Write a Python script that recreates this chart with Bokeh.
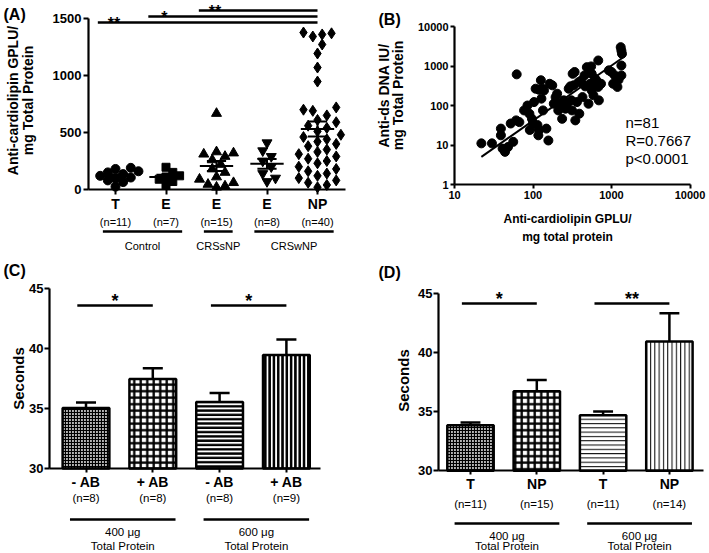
import math
import numpy as np
from bokeh.plotting import figure
from bokeh.layouts import column, row
from bokeh.models import FixedTicker, Range1d, PrintfTickFormatter
from bokeh.core.properties import value
from bokeh.embed import file_html
from bokeh.resources import INLINE

FONT = "Liberation Sans"

# ---------------- Panel A data ----------------
a_labels = ["T", "E", "E", "E", "NP"]
a_counts = ["(n=11)", "(n=7)", "(n=15)", "(n=8)", "(n=40)"]
a_groups = ["Control", "CRSsNP", "CRSwNP"]
a_group_first = [1, 3, 4]
a_group_last = [2, 3, 5]
a_T = [25, 65, 80, 95, 105, 120, 135, 150, 160, 180, 190]
a_E_control = [40, 70, 90, 110, 120, 150, 195]
a_E_crssnp = [20, 30, 45, 60, 90, 110, 150, 180, 220, 260, 290, 310, 320, 330, 667]
a_E_crswnp = [70, 100, 140, 200, 250, 290, 340, 410]
a_NP = [1377, 1370, 1360, 1342, 1272, 1193, 1070, 947, 720, 700, 690, 650, 610,
        590, 560, 540, 510, 480, 460, 440, 420, 400, 380, 350, 330, 310, 290,
        270, 250, 230, 200, 180, 160, 140, 120, 100, 80, 60, 40, 20]
a_sig_from = [1, 2, 3]
a_sig_to = [5, 5, 5]
a_sig_text = ["**", "*", "**"]
a_yticks = [0, 500, 1000, 1500]

# ---------------- Panel B data ----------------
b_x = [22, 30, 39, 39, 41, 44, 48, 52, 56, 61, 67, 62, 77, 85, 90, 91, 97, 100, 103, 108,
       114, 119, 117, 119, 128, 132, 134, 138, 148, 157, 163, 176, 184, 194, 203, 210, 213,
       235, 247, 259, 272, 285, 299, 309, 314, 320, 329, 339, 346, 363, 381, 389, 411, 427,
       453, 462, 485, 509, 534, 560, 589, 617, 678, 690, 735, 550, 678, 646, 925, 1000,
       1100, 1050, 1190, 1230, 1336, 1310, 1336, 1360, 1336, 560, 126]
b_y = [11, 11, 26, 17.6, 8.1, 6.7, 8.9, 35, 12, 42, 38, 614, 75, 100, 62, 24, 46, 35, 122, 266,
       32, 24, 17.6, 251, 149, 266, 75, 240, 26, 13, 355, 324, 111, 163, 199, 75, 111, 46,
       135, 83, 111, 266, 305, 135, 75, 635, 324, 705, 42, 122, 390, 62, 427, 163, 578, 305,
       935, 111, 355, 240, 181, 477, 295, 135, 355, 975, 1380, 427, 775, 705, 578, 355, 295,
       447, 578, 3000, 2460, 2040, 1030, 635, 436]
b_fit_x = [22, 1400]
b_fit_y = [5, 1640]
b_stats = ["n=81", "R=0.7667", "p<0.0001"]
b_xticks = [10, 100, 1000, 10000]
b_yticks = [1, 10, 100, 1000, 10000]

# ---------------- Panel C data ----------------
c_labels = ["- AB", "+ AB", "- AB", "+ AB"]
c_counts = ["(n=8)", "(n=8)", "(n=8)", "(n=9)"]
c_mean = [35.05, 37.45, 35.55, 39.45]
c_sem = [0.45, 0.9, 0.75, 1.3]
c_sig_from = [1, 3]
c_sig_to = [2, 4]
c_sig_text = ["*", "*"]
c_group_first = [1, 3]
c_group_last = [2, 4]
c_group_top = ["400 \u03bcg", "600 \u03bcg"]
c_group_bottom = ["Total Protein", "Total Protein"]

# ---------------- Panel D data ----------------
d_labels = ["T", "NP", "T", "NP"]
d_counts = ["(n=11)", "(n=15)", "(n=11)", "(n=14)"]
d_mean = [33.85, 36.75, 34.7, 40.95]
d_sem = [0.25, 0.95, 0.33, 2.4]
d_sig_from = [1, 3]
d_sig_to = [2, 4]
d_sig_text = ["*", "**"]
d_group_first = [1, 3]
d_group_last = [2, 4]
d_group_top = ["400 \u03bcg", "600 \u03bcg"]
d_group_bottom = ["Total Protein", "Total Protein"]

bar_yticks = [30, 35, 40, 45]


# ---------------- helpers ----------------
def new_fig(w, h, xr, yr, xtype="linear", ytype="linear"):
    p = figure(width=w, height=h, x_range=Range1d(*xr), y_range=Range1d(*yr),
               x_axis_type=xtype, y_axis_type=ytype, output_backend="svg",
               toolbar_location=None, title=None, min_border=0)
    p.outline_line_color = None
    p.xgrid.visible = False
    p.ygrid.visible = False
    return p


def style_axis(ax, size, tick_out=5, standoff=2):
    ax.axis_line_width = 2.2
    ax.axis_line_color = "black"
    ax.major_tick_line_width = 2
    ax.major_tick_line_color = "black"
    ax.major_tick_in = 0
    ax.major_tick_out = tick_out
    ax.minor_tick_line_color = None
    ax.major_label_text_font = FONT
    ax.major_label_text_font_style = "bold"
    ax.major_label_text_font_size = size
    ax.major_label_text_color = "black"
    ax.major_label_standoff = standoff


def overrides(labels):
    d = {}
    for i, lab in enumerate(labels):
        d[i + 1] = lab
        d[str(i + 1)] = lab
    return d


def texts(p, xs, ys, labels, size, bold=False, align="center", baseline="middle", angle=0.0):
    p.text(x=list(xs), y=list(ys), text=list(labels), text_font=value(FONT),
           text_font_size=size, text_font_style="bold" if bold else "normal",
           text_align=align, text_baseline=baseline, angle=angle, text_color="black")


def swarm_offsets(vals, px_x, px_v, diam):
    vals = np.asarray(vals, float)
    order = np.argsort(vals)
    placed = []
    offs = np.zeros(len(vals))
    steps = [0.0]
    for m in range(1, 14):
        steps += [m * diam * 0.5, -m * diam * 0.5]
    for idx in order:
        yv = vals[idx] * px_v
        chosen = steps[-1]
        for c in steps:
            if all((c - px) ** 2 + (yv - py) ** 2 >= diam ** 2 for px, py in placed):
                chosen = c
                break
        placed.append((chosen, yv))
        offs[idx] = chosen / px_x
    return offs


# ================= Panel A =================
A_W, A_H = 355, 257
A_PXX, A_PXV = 50.5, 0.114


def amap_x(lx):
    return 1 + (lx - 115) / A_PXX


def amap_y(ly):
    return (189 - ly) / A_PXV


pA = new_fig(A_W, A_H, (amap_x(0), amap_x(A_W)), (amap_y(A_H), amap_y(0)))
xa, ya = pA.xaxis[0], pA.yaxis[0]
xa.fixed_location = 0
xa.bounds = (amap_x(88), amap_x(345))
xa.ticker = FixedTicker(ticks=list(range(1, len(a_labels) + 1)))
xa.major_label_overrides = overrides(a_labels)
style_axis(xa, "14px", 5, 1)
ya.fixed_location = amap_x(88)
ya.bounds = (a_yticks[0], a_yticks[-1])
ya.ticker = FixedTicker(ticks=a_yticks)
style_axis(ya, "13px", 5, 2)

a_series = [a_T, a_E_control, a_E_crssnp, a_E_crswnp, a_NP]
a_markers = ["circle", "square", "triangle", "inverted_triangle", "diamond"]
a_sizes = [9, 8, 10, 10, 11]
for i, vals in enumerate(a_series):
    pos = i + 1
    offs = swarm_offsets(vals, A_PXX, A_PXV, a_sizes[i] * 0.85)
    pA.scatter(x=list(pos + offs), y=vals, marker=a_markers[i], size=a_sizes[i],
               color="black")
    m = float(np.mean(vals))
    s = float(np.std(vals, ddof=1) / math.sqrt(len(vals)))
    pA.segment(x0=[pos - 0.33, pos - 0.19, pos - 0.19, pos],
               y0=[m, m + s, m - s, m - s],
               x1=[pos + 0.33, pos + 0.19, pos + 0.19, pos],
               y1=[m, m + s, m - s, m + s], line_width=2, color="black")

a_pos = list(range(1, len(a_labels) + 1))
texts(pA, a_pos, [amap_y(221)] * len(a_pos), a_counts, "11px")
g0 = [f - 0.25 for f in a_group_first]
g1 = [l + 0.32 for l in a_group_last]
pA.segment(x0=g0, y0=[amap_y(231)] * 3, x1=g1, y1=[amap_y(231)] * 3, line_width=2.7,
           color="black")
texts(pA, [(u + v) / 2 for u, v in zip(g0, g1)], [amap_y(245)] * 3, a_groups, "11px")
for k in range(len(a_sig_from)):
    ly = 22 - 6 * k
    xs0 = a_sig_from[k] - 0.35
    pA.segment(x0=[xs0], y0=[amap_y(ly)], x1=[a_sig_to[k]], y1=[amap_y(ly)], line_width=2.6,
               color="black")
    texts(pA, [xs0 + 0.32], [amap_y(ly + 1)], [a_sig_text[k]], "16px", True,
          baseline="alphabetic")
texts(pA, [amap_x(3)], [amap_y(13.5)], ["(A)"], "16px", True, align="left")
texts(pA, [amap_x(12), amap_x(27)], [amap_y(100)] * 2,
      ["Anti-cardiolipin GPLU/", "mg Total Protein"], "14px", True, angle=math.pi / 2)

# ================= Panel B =================
B_W, B_H = 352, 257


def bmap_x(lx):
    return 10 ** (1 + (lx - 99) / 78.5)


def bmap_y(ly):
    return 10 ** ((184 - ly) / 39.5)


pB = new_fig(B_W, B_H, (bmap_x(0), bmap_x(B_W)), (bmap_y(B_H), bmap_y(0)), "log", "log")
xb, yb = pB.xaxis[0], pB.yaxis[0]
xb.fixed_location = b_yticks[0]
xb.bounds = (b_xticks[0], b_xticks[-1])
xb.ticker = FixedTicker(ticks=b_xticks)
xb.formatter = PrintfTickFormatter(format="%d")
style_axis(xb, "11px", 4, 2)
yb.fixed_location = b_xticks[0]
yb.bounds = (b_yticks[0], b_yticks[-1])
yb.ticker = FixedTicker(ticks=b_yticks)
yb.formatter = PrintfTickFormatter(format="%d")
style_axis(yb, "11px", 4, 2)

pB.scatter(x=b_x, y=b_y, marker="circle", size=9, color="black")
pB.line(x=b_fit_x, y=b_fit_y, line_width=2, color="black")
texts(pB, [bmap_x(270)] * 3, [bmap_y(122), bmap_y(140), bmap_y(158)], b_stats, "15px",
      align="left")
texts(pB, [bmap_x(23)], [bmap_y(18.5)], ["(B)"], "16px", True, align="left")
texts(pB, [bmap_x(28), bmap_x(42)], [bmap_y(95)] * 2, ["Anti-ds DNA IU/", "mg Total Protein"],
      "14px", True, angle=math.pi / 2)
texts(pB, [bmap_x(212)] * 2, [bmap_y(218), bmap_y(236)],
      ["Anti-cardiolipin GPLU/", "mg total protein"], "12px", True)

# ================= Panels C & D =================
R2_H = 294


def cmap_x(lx):
    return 1 + (lx - 85.5) / 66.8


def cmap_y(ly):
    return 30 + (211 - ly) / 12


def dmap_x(lx):
    return 1 + (lx - 115) / 66.3


def dmap_y(ly):
    return 30 + (213.3 - ly) / 11.8


c_styles = [
    dict(fill_color="#b4b4b4", hatch_pattern="cross", hatch_scale=3, hatch_weight=1.2),
    dict(fill_color="white", hatch_pattern="cross", hatch_scale=6.5, hatch_weight=2.3),
    dict(fill_color="white", hatch_pattern="horizontal_line", hatch_scale=4.3, hatch_weight=2.5),
    dict(fill_color="white", hatch_pattern="vertical_line", hatch_scale=4.3, hatch_weight=2.8),
]
d_styles = [
    dict(fill_color="#b4b4b4", hatch_pattern="cross", hatch_scale=3, hatch_weight=1.2),
    dict(fill_color="white", hatch_pattern="cross", hatch_scale=6.5, hatch_weight=2.3),
    dict(fill_color="white", hatch_pattern="horizontal_line", hatch_scale=4.3, hatch_weight=1),
    dict(fill_color="white", hatch_pattern="vertical_line", hatch_scale=4.3, hatch_weight=1),
]


def bar_panel(W, fx, fy, labels, counts, means, sems, sig_from, sig_to, sig_text, sig_ly,
              gfirst, glast, gtop, gbottom, styles, axis_lx, axis_end_lx, letter, letter_lx,
              title_lx, lys):
    p = new_fig(W, R2_H, (fx(0), fx(W)), (fy(R2_H), fy(0)))
    xax, yax = p.xaxis[0], p.yaxis[0]
    xax.fixed_location = bar_yticks[0]
    xax.bounds = (fx(axis_lx), fx(axis_end_lx))
    xax.ticker = FixedTicker(ticks=list(range(1, len(labels) + 1)))
    xax.major_label_overrides = overrides(labels)
    style_axis(xax, "14px", 4, 1)
    yax.fixed_location = fx(axis_lx)
    yax.bounds = (bar_yticks[0], bar_yticks[-1])
    yax.ticker = FixedTicker(ticks=bar_yticks)
    style_axis(yax, "13px", 5, 1)
    pos = list(range(1, len(labels) + 1))
    for i in range(len(pos)):
        p.vbar(x=[pos[i]], top=[means[i]], bottom=bar_yticks[0], width=0.7,
               line_color="black", line_width=2.5, hatch_color="black", **styles[i])
    tops = [m + s for m, s in zip(means, sems)]
    p.segment(x0=pos, y0=means, x1=pos, y1=tops, line_width=2.5, color="black")
    p.segment(x0=[x - 0.15 for x in pos], y0=tops, x1=[x + 0.15 for x in pos], y1=tops,
              line_width=2.5, color="black")
    for k in range(len(sig_from)):
        x0 = sig_from[k] - 0.13
        x1 = sig_to[k]
        p.segment(x0=[x0], y0=[fy(sig_ly)], x1=[x1], y1=[fy(sig_ly)], line_width=2.6,
                  color="black")
        texts(p, [(x0 + x1) / 2], [fy(sig_ly - 5)], [sig_text[k]], "18px", True,
              baseline="alphabetic")
    texts(p, pos, [fy(lys["n"])] * len(pos), counts, "11.5px")
    g0 = [f - 0.24 for f in gfirst]
    g1 = [l + 0.34 for l in glast]
    p.segment(x0=g0, y0=[fy(lys["gl"])] * len(g0), x1=g1, y1=[fy(lys["gl"])] * len(g0),
              line_width=2.7, color="black")
    gc = [(u + v) / 2 for u, v in zip(g0, g1)]
    texts(p, gc, [fy(lys["g1"])] * len(gc), gtop, "11.5px")
    texts(p, gc, [fy(lys["g2"])] * len(gc), gbottom, "11.5px")
    texts(p, [fx(letter_lx)], [fy(lys["letter"])], [letter], "16px", True, align="left")
    texts(p, [fx(title_lx)], [fy(lys["title"])], ["Seconds"], "15px", True, angle=math.pi / 2)
    return p


pC = bar_panel(355, cmap_x, cmap_y, c_labels, c_counts, c_mean, c_sem, c_sig_from, c_sig_to,
               c_sig_text, 48, c_group_first, c_group_last, c_group_top,
               c_group_bottom, c_styles, 49, 320, "(C)", 3, 17.5,
               dict(n=240, gl=262, g1=274, g2=288, letter=12.5, title=121))
pD = bar_panel(352, dmap_x, dmap_y, d_labels, d_counts, d_mean, d_sem, d_sig_from, d_sig_to,
               d_sig_text, 46, d_group_first, d_group_last, d_group_top,
               d_group_bottom, d_styles, 83, 348, "(D)", 23, 47.5,
               dict(n=246, gl=266, g1=278, g2=288, letter=14.5, title=123))

layout = column(row(pA, pB), row(pC, pD))

with open("out.html", "w") as f:
    f.write(file_html(layout, INLINE))
